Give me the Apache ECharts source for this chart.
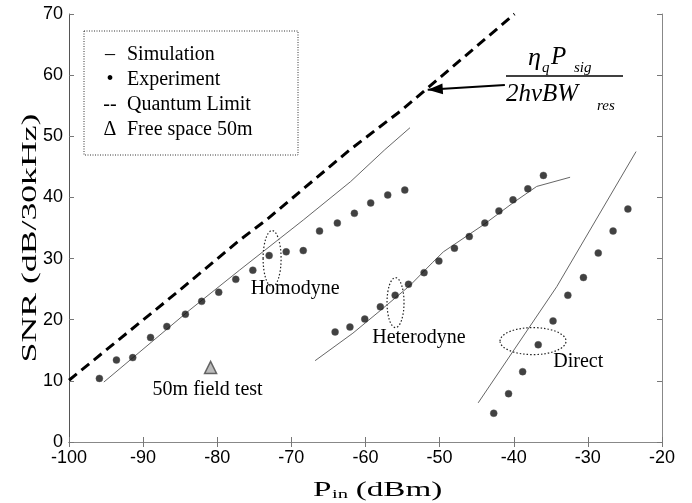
<!DOCTYPE html>
<html>
<head>
<meta charset="utf-8">
<script src="https://cdn.jsdelivr.net/npm/echarts@6/dist/echarts.min.js"></script>
<style>
  html, body { margin: 0; padding: 0; background: #fff; }
  #chart { width: 692px; height: 503px; }
</style>
</head>
<body>
<div id="chart"></div>
<script>
// measured points, [Pin dBm, SNR dB]
const homodyneExp = [[-95.9,10.4],[-93.6,13.4],[-91.4,13.8],[-89.0,17.1],[-86.8,18.9],[-84.3,20.9],[-82.1,23.0],[-79.8,24.5],[-77.5,26.6],[-75.2,28.1],[-73.0,30.5],[-70.7,31.1],[-68.4,31.3],[-66.2,34.5],[-63.8,35.8],[-61.5,37.4],[-59.3,39.1],[-57.0,40.4],[-54.7,41.2]]
const heterodyneExp = [[-64.1,18.0],[-62.1,18.8],[-60.1,20.1],[-58.0,22.1],[-56.0,24.0],[-54.2,25.8],[-52.1,27.7],[-50.1,29.6],[-48.0,31.7],[-46.0,33.6],[-43.9,35.8],[-42.0,37.8],[-40.1,39.6],[-38.1,41.4],[-36.0,43.6]]
const directExp = [[-42.7,4.7],[-40.7,7.9],[-38.8,11.5],[-36.7,15.9],[-34.7,19.8],[-32.7,24.0],[-30.6,26.9],[-28.6,30.9],[-26.6,34.5],[-24.6,38.1]]
const freeSpace = [[-80.9,12.2]]

// simulation curves
const homodyneSim = [[-95.3,9.8],[-83.7,21.6],[-77.0,28.1],[-68.4,36.3],[-62.0,42.6],[-57.4,47.8],[-54.0,51.4]]
const heterodyneSim = [[-66.8,13.3],[-61.7,17.8],[-58.0,21.5],[-54.0,25.6],[-51.0,29.3],[-49.5,31.1],[-44.0,35.6],[-40.0,39.2],[-36.9,41.8],[-32.4,43.3]]
const directSim = [[-44.8,6.4],[-34.2,25.4],[-23.5,47.5]]
const quantumLimit = [[-100,10.1],[-85.1,24.8],[-77.0,33.0],[-73.4,36.3],[-62.1,47.8],[-55.1,54.3],[-39.9,70]]

const legendItems = ['Simulation', 'Experiment', 'Quantum Limit', 'Free space 50m']
const legendMarks = ['–', '•', '--', 'Δ']
const regionLabels = ['Homodyne', 'Heterodyne', 'Direct', '50m field test']

// where things sit, in data units
const regionLabelAt = [[-69.5,25.0],[-52.8,17.0],[-31.3,13.2],[-81.3,8.5]]
const ellipseAt = [[-72.6,30.0],[-55.95,22.8],[-37.4,16.5]]
const ellipseR = [[9,28],[8.5,25],[33,13.5]]
const arrowFrom = [-41.2,58.4]
const arrowTo = [-51.6,57.6]

const serif = '"Liberation Serif", "Times New Roman", serif'
const sans = '"Liberation Sans", Arial, sans-serif'

const chart = echarts.init(document.getElementById('chart'))

const simStyle = { color: '#666', width: 1 }
const dotStyle = { color: '#111', borderColor: '#555', borderWidth: 0.5 }

const simLine = (name, data) => ({
  name, type: 'line', data, symbol: 'none', silent: true,
  lineStyle: simStyle, z: 2
})
const dots = (name, data) => ({
  name, type: 'scatter', data, symbol: 'circle', symbolSize: 7,
  itemStyle: dotStyle, silent: true, z: 3
})

const axisCommon = {
  axisLine: { lineStyle: { color: '#555', width: 1 } },
  axisTick: { inside: true, length: 5, lineStyle: { color: '#777' } },
  splitLine: { show: false }
}

chart.setOption({
  animation: false,
  backgroundColor: '#fff',
  grid: { left: 69, right: 30, top: 14, bottom: 61 },
  xAxis: [
    Object.assign({
      type: 'value', min: -100, max: -20, interval: 10,
      axisLabel: { color: '#000', fontFamily: sans, fontSize: 18, margin: 7 }
    }, axisCommon),
    Object.assign({
      type: 'value', position: 'top', min: -100, max: -20, interval: 10,
      axisLabel: { show: false }
    }, axisCommon, { axisLine: { lineStyle: { color: '#888' } } })
  ],
  yAxis: [
    Object.assign({
      type: 'value', min: 0, max: 70, interval: 10,
      axisLabel: { color: '#000', fontFamily: sans, fontSize: 18, margin: 6 }
    }, axisCommon),
    Object.assign({
      type: 'value', position: 'right', min: 0, max: 70, interval: 10,
      axisLabel: { show: false }
    }, axisCommon, { axisLine: { lineStyle: { color: '#888' } } })
  ],
  series: [
    simLine('Simulation homodyne', homodyneSim),
    simLine('Simulation heterodyne', heterodyneSim),
    simLine('Simulation direct', directSim),
    {
      name: 'Quantum Limit', type: 'line', data: quantumLimit, symbol: 'none', silent: true,
      lineStyle: { color: '#000', width: 3, type: [10, 6] }, z: 2,
      markLine: {
        silent: true, symbol: 'none',
        label: { show: false },
        lineStyle: { color: '#000', width: 2, type: 'solid' },
        data: [[{ coord: arrowFrom }, { coord: arrowTo }]]
      }
    },
    dots('Experiment homodyne', homodyneExp),
    dots('Experiment heterodyne', heterodyneExp),
    dots('Experiment direct', directExp),
    {
      name: 'Free space 50m', type: 'scatter', data: freeSpace, symbol: 'triangle', symbolSize: 12,
      itemStyle: { color: '#aaa', borderColor: '#444', borderWidth: 1.5 }, silent: true, z: 3
    }
  ]
})

// annotations need pixel positions from the axes
const px = p => chart.convertToPixel({ gridIndex: 0 }, p)
const graphics = []

regionLabels.forEach((t, i) => {
  const [x, y] = px(regionLabelAt[i])
  graphics.push({
    type: 'text', x, y, silent: true,
    style: { text: t, font: '20px ' + serif, fill: '#000', textAlign: 'center', textVerticalAlign: 'middle' }
  })
})
ellipseAt.forEach((c, i) => {
  const [cx, cy] = px(c)
  graphics.push({
    type: 'ellipse', silent: true,
    shape: { cx, cy, rx: ellipseR[i][0], ry: ellipseR[i][1] },
    style: { fill: 'none', stroke: '#222', lineWidth: 1.2, lineDash: [1.5, 2] }
  })
})

// arrow head at the quantum limit line
{
  const [fx, fy] = px(arrowFrom)
  const [tx, ty] = px(arrowTo)
  const len = Math.hypot(tx - fx, ty - fy)
  const ux = (tx - fx) / len, uy = (ty - fy) / len
  const bx = tx - ux * 15, by = ty - uy * 15
  graphics.push({
    type: 'polygon', silent: true,
    shape: { points: [[tx, ty], [bx - uy * 5.5, by + ux * 5.5], [bx + uy * 5.5, by - ux * 5.5]] },
    style: { fill: '#000' }
  })
}

// legend box
graphics.push({
  type: 'rect', silent: true,
  shape: { x: 84, y: 31, width: 214, height: 124 },
  style: { fill: '#fff', stroke: '#333', lineWidth: 1, lineDash: [1, 1.5] }
})
legendItems.forEach((t, i) => {
  const y = 55 + i * 25
  graphics.push({
    type: 'text', x: 110, y, silent: true,
    style: { text: legendMarks[i], font: '20px ' + serif, fill: '#000', textAlign: 'center', textVerticalAlign: 'middle' }
  })
  graphics.push({
    type: 'text', x: 127, y, silent: true,
    style: { text: t, font: '20px ' + serif, fill: '#000', textAlign: 'left', textVerticalAlign: 'middle' }
  })
})

// formula next to the arrow
const it = size => 'italic ' + size + 'px ' + serif
const formula = [
  ['η', 528, 58, 26], ['q', 542, 68, 15], ['P', 551, 57, 25], ['sig', 574, 68, 15],
  ['2hνBW', 506, 94, 25], ['res', 597, 106, 15]
]
formula.forEach(([t, x, y, s]) => {
  graphics.push({
    type: 'text', x, y, silent: true,
    style: { text: t, font: it(s), fill: '#000', textAlign: 'left', textVerticalAlign: 'middle' }
  })
})
graphics.push({
  type: 'line', silent: true,
  shape: { x1: 506, y1: 76, x2: 623, y2: 76 },
  style: { stroke: '#000', lineWidth: 1.5 }
})

// axis titles (stretched, as in the original figure)
graphics.push({
  type: 'text', x: 30, y: 238, rotation: Math.PI / 2, scaleX: 1.7, silent: true,
  style: { text: 'SNR (dB/30kHz)', font: '21px ' + serif, fill: '#000', textAlign: 'center', textVerticalAlign: 'middle' }
})
graphics.push({
  type: 'group', x: 313, y: 490, scaleX: 1.58, silent: true,
  children: [
    { type: 'text', x: 0, y: 0, style: { text: 'P', font: '21px ' + serif, fill: '#000', textVerticalAlign: 'middle' } },
    { type: 'text', x: 12, y: 5, style: { text: 'in', font: '13px ' + serif, fill: '#000', textVerticalAlign: 'middle' } },
    { type: 'text', x: 27, y: 0, style: { text: '(dBm)', font: '21px ' + serif, fill: '#000', textVerticalAlign: 'middle' } }
  ]
})

chart.setOption({ graphic: graphics })
</script>
</body>
</html>
